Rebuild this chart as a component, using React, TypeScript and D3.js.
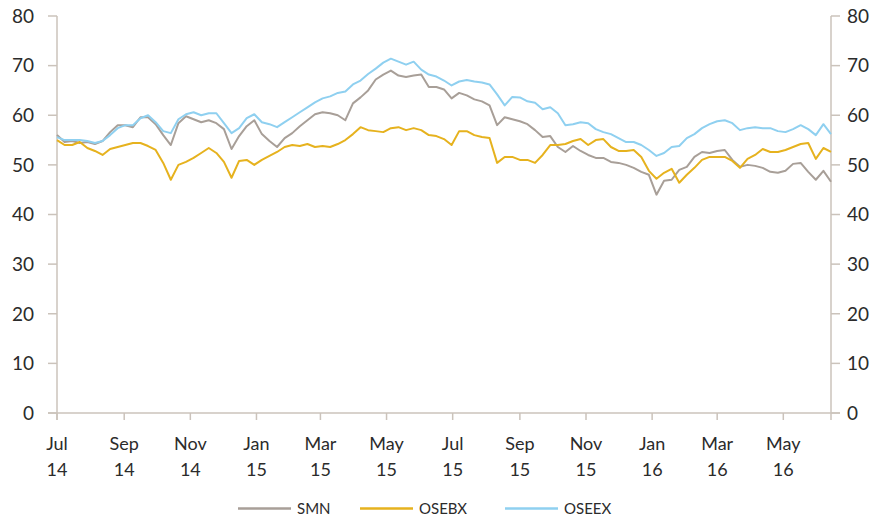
import React from "react";
import * as d3 from "d3";

const START = "2014-07-01";
const END = "2016-06-14";
const STEP_DAYS = 7;

const smn = [
  56.0, 54.6, 54.8, 54.4, 54.6, 54.2, 54.8, 56.6, 58.0, 58.0, 57.6, 59.6, 59.6, 58.2, 56.0, 54.0,
  58.4, 59.8, 59.2, 58.6, 59.0, 58.4, 57.2, 53.2, 55.8, 57.8, 59.0, 56.2, 54.8, 53.6, 55.4, 56.4,
  57.8, 59.0, 60.2, 60.6, 60.4, 60.0, 59.0, 62.4, 63.6, 65.0, 67.2, 68.2, 69.0, 68.0, 67.7, 68.0,
  68.2, 65.7, 65.7, 65.2, 63.4, 64.5, 64.0, 63.2, 62.8, 62.0, 58.0, 59.6, 59.2, 58.8, 58.2, 57.0,
  55.6, 55.8, 53.6, 52.6, 53.8, 52.8, 52.0, 51.4, 51.4, 50.6, 50.4, 50.0, 49.4, 48.6, 48.0, 44.0,
  46.8, 47.0, 49.0, 49.6, 51.6, 52.6, 52.4, 52.8, 53.0, 51.0, 49.6, 50.0, 49.8, 49.4, 48.6, 48.4,
  48.8, 50.2, 50.4, 48.6, 47.0, 48.8, 46.6,
];

const osebx = [
  55.0, 54.0, 54.0, 54.6, 53.4, 52.8, 52.0, 53.2, 53.6, 54.0, 54.4, 54.4, 53.8, 53.0, 50.4, 47.0,
  50.0, 50.6, 51.4, 52.4, 53.4, 52.4, 50.6, 47.4, 50.8, 51.0, 50.0, 51.0, 51.8, 52.6, 53.6, 54.0,
  53.8, 54.2, 53.6, 53.8, 53.6, 54.2, 55.0, 56.2, 57.6, 57.0, 56.8, 56.6, 57.4, 57.6, 57.0, 57.4,
  57.0, 56.0, 55.8, 55.2, 54.0, 56.8, 56.8, 56.0, 55.6, 55.4, 50.4, 51.6, 51.6, 51.0, 51.0, 50.4,
  52.0, 54.0, 54.0, 54.2, 54.8, 55.2, 54.0, 55.0, 55.2, 53.6, 52.8, 52.8, 53.0, 51.6, 48.8, 47.2,
  48.4, 49.2, 46.4, 48.0, 49.4, 51.0, 51.6, 51.6, 51.6, 50.8, 49.4, 51.2, 52.0, 53.2, 52.6, 52.6,
  53.0, 53.6, 54.2, 54.4, 51.2, 53.4, 52.6,
];

const oseex = [
  55.6, 55.0, 55.0, 55.0, 54.8, 54.4, 54.8, 56.0, 57.4, 58.0, 58.0, 59.4, 60.0, 58.6, 56.8, 56.4,
  59.2, 60.2, 60.6, 60.0, 60.4, 60.4, 58.4, 56.4, 57.4, 59.4, 60.2, 58.6, 58.2, 57.6, 58.6, 59.6,
  60.6, 61.6, 62.6, 63.4, 63.8, 64.5, 64.8, 66.2, 67.0, 68.3, 69.4, 70.6, 71.4, 70.8, 70.2, 70.8,
  69.2, 68.2, 67.8, 67.0, 66.0, 66.8, 67.1, 66.8, 66.6, 66.2, 64.2, 62.0, 63.7, 63.6, 62.8, 62.5,
  61.2, 61.6, 60.4, 58.0, 58.2, 58.6, 58.4, 57.2, 56.6, 56.2, 55.4, 54.6, 54.6, 54.0, 53.0, 51.8,
  52.4, 53.6, 53.8, 55.4, 56.2, 57.4, 58.2, 58.8, 59.0, 58.4, 57.0, 57.4, 57.6, 57.4, 57.4, 56.8,
  56.6, 57.2, 58.0, 57.2, 56.0, 58.2, 56.2,
];

const seriesNames = ["SMN", "OSEBX", "OSEEX"];
const seriesColors = ["#a89f98", "#e6b21e", "#8fd0f0"];
const tickMonths = [
  "2014-07-01", "2014-09-01", "2014-11-01", "2015-01-01", "2015-03-01", "2015-05-01",
  "2015-07-01", "2015-09-01", "2015-11-01", "2016-01-01", "2016-03-01", "2016-05-01",
];
const yTicks = [0, 10, 20, 30, 40, 50, 60, 70, 80];

const W = 874;
const H = 520;
const FONT = "Lato, 'Open Sans', sans-serif";
const AXIS = "#cbc3bb";
const TEXT = "#2b2b2b";

export default function App() {
  const parse = d3.timeParse("%Y-%m-%d");
  const start = parse(START) as Date;
  const end = parse(END) as Date;
  const x = d3.scaleTime().domain([start, end]).range([57, 831]);
  const y = d3.scaleLinear().domain([0, 80]).range([413, 16]);
  const dates = smn.map((_, i) => d3.timeDay.offset(start, i * STEP_DAYS));
  const allSeries = [smn, osebx, oseex];
  const line = d3
    .line<number>()
    .x((_, i) => x(dates[i]))
    .y((v) => y(v));
  const fmtM = d3.timeFormat("%b");
  const fmtY = d3.timeFormat("%y");

  const legendX = [238, 360, 505];

  return (
    <svg
      width={W}
      height={H}
      style={{ position: "absolute", left: 0, top: 0, background: "#fff" }}
      fontFamily={FONT}
    >
      {/* axes */}
      <line x1={57} x2={57} y1={16} y2={420} stroke={AXIS} strokeWidth={1.5} />
      <line x1={831} x2={831} y1={16} y2={420} stroke={AXIS} strokeWidth={1.5} />
      <line x1={48} x2={840} y1={413} y2={413} stroke={AXIS} strokeWidth={1.5} />
      {yTicks.map((t) => (
        <g key={"yt" + t}>
          <line x1={48} x2={57} y1={y(t)} y2={y(t)} stroke={AXIS} strokeWidth={1.5} />
          <line x1={831} x2={840} y1={y(t)} y2={y(t)} stroke={AXIS} strokeWidth={1.5} />
          <text x={34} y={y(t)} dy="0.36em" textAnchor="end" fontSize={19} fill={TEXT}>
            {t}
          </text>
          <text x={847} y={y(t)} dy="0.36em" textAnchor="start" fontSize={19} fill={TEXT}>
            {t}
          </text>
        </g>
      ))}
      {tickMonths.map((s) => {
        const d = parse(s) as Date;
        const px = x(d);
        return (
          <g key={s}>
            <line x1={px} x2={px} y1={413} y2={420} stroke={AXIS} strokeWidth={1.5} />
            <text x={px} y={450} textAnchor="middle" fontSize={18} fill={TEXT}>
              {fmtM(d)}
            </text>
            <text x={px} y={476} textAnchor="middle" fontSize={18} fill={TEXT}>
              {fmtY(d)}
            </text>
          </g>
        );
      })}
      {/* lines */}
      {allSeries.map((s, k) => (
        <path
          key={seriesNames[k]}
          d={line(s) || ""}
          fill="none"
          stroke={seriesColors[k]}
          strokeWidth={2}
          strokeLinejoin="round"
        />
      ))}
      {/* legend */}
      {seriesNames.map((n, k) => (
        <g key={"lg" + n}>
          <line
            x1={legendX[k]}
            x2={legendX[k] + 53}
            y1={508.5}
            y2={508.5}
            stroke={seriesColors[k]}
            strokeWidth={2.5}
          />
          <text x={legendX[k] + 59} y={508.5} dy="0.36em" fontSize={15} fill={TEXT}>
            {n}
          </text>
        </g>
      ))}
    </svg>
  );
}
